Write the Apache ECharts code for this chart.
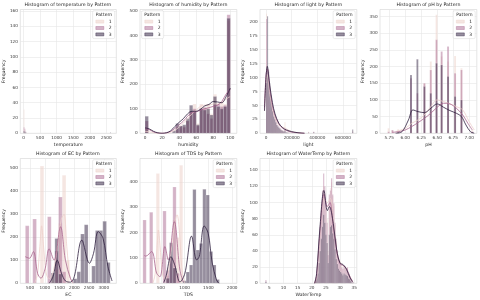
<!DOCTYPE html>
<html><head><meta charset="utf-8">
<script src="https://cdn.jsdelivr.net/npm/echarts@6/dist/echarts.min.js"></script>
<style>html,body{margin:0;padding:0;background:#fff}#c{width:480px;height:300px}</style>
</head><body><div id="c"></div>
<script>
// ---------------- DATA ----------------
const patterns = ['1', '2', '3'];

// temperature
const tempBins = [0, 27, 54, 2610];
const tempBinWidth = 27;
const tempH1 = [31, 4, 0, 0];
const tempH2 = [8, 6, 2, 0];
const tempH3 = [3, 2, 1, 1];
const tempTicksX = [0, 500, 1000, 1500, 2000, 2500];
const tempTicksY = [0, 20, 40, 60, 80, 100, 120, 140, 160];

// humidity
const humBins = [0, 4, 8, 12, 16, 20, 24, 28, 32, 36, 40, 44, 48, 52, 56, 60, 64, 68, 72, 76, 80, 84, 88, 92, 96];
const humBinWidth = 4;
const humH1 = [20, 0, 0, 0, 0, 0, 0, 0, 0, 10, 20, 30, 50, 80, 120, 40, 120, 110, 120, 80, 160, 100, 130, 120, 460];
const humH2 = [50, 0, 0, 0, 0, 0, 0, 0, 0, 25, 30, 25, 50, 90, 100, 30, 100, 105, 80, 60, 120, 120, 110, 115, 485];
const humH3 = [70, 0, 0, 0, 0, 0, 0, 0, 10, 40, 30, 35, 60, 115, 90, 35, 100, 95, 100, 75, 150, 110, 100, 110, 470];
const humK1 = [[0,8],[5,6],[10,2],[20,0],[30,4],[40,25],[50,60],[55,80],[60,95],[65,110],[70,115],[75,115],[80,120],[85,120],[90,125],[95,140],[100,150]];
const humK2 = [[0,20],[5,15],[10,6],[15,1],[20,0],[25,2],[30,8],[35,20],[40,35],[45,50],[50,70],[55,85],[60,88],[65,95],[70,100],[75,105],[80,110],[85,115],[90,130],[95,160],[100,180]];
const humK3 = [[0,22],[5,18],[10,8],[15,2],[20,0],[25,2],[30,10],[35,28],[40,45],[45,60],[50,80],[55,90],[60,90],[65,98],[70,112],[75,118],[80,130],[85,128],[90,125],[95,150],[100,185]];
const humTicksX = [0, 20, 40, 60, 80, 100];
const humTicksY = [0, 100, 200, 300, 400, 500];

// light
const lightBins = [0, 8000, 16000, 24000, 32000, 40000, 48000, 56000, 64000, 72000, 80000, 88000, 96000, 104000, 112000, 120000, 128000, 136000, 144000, 152000, 160000, 168000, 176000, 184000, 192000, 328000, 368000, 672000];
const lightBinWidth = 8000;
const lightH1 = [215, 90, 60, 45, 35, 30, 25, 20, 18, 15, 12, 10, 8, 8, 6, 5, 5, 4, 20, 3, 2, 2, 1, 1, 1, 3, 2, 4];
const lightH2 = [205, 100, 115, 80, 60, 55, 45, 35, 30, 25, 20, 15, 12, 10, 8, 6, 5, 4, 8, 3, 2, 1, 1, 0, 0, 2, 3, 2];
const lightH3 = [90, 210, 110, 90, 70, 55, 40, 30, 25, 20, 15, 12, 10, 8, 6, 5, 4, 3, 5, 2, 1, 1, 0, 0, 0, 1, 2, 7];
const lightK1 = [[-12000,40],[0,95],[10000,105],[30000,70],[60000,35],[100000,15],[150000,9],[200000,3],[300000,0]];
const lightK2 = [[-12000,45],[0,105],[10000,115],[20000,100],[30000,80],[50000,50],[70000,32],[100000,17],[130000,9],[160000,5],[200000,2],[300000,0]];
const lightK3 = [[-12000,40],[0,100],[10000,120],[20000,105],[30000,85],[50000,55],[70000,35],[100000,18],[130000,10],[160000,6],[200000,3],[250000,1],[300000,0]];
const lightTicksX = [0, 200000, 400000, 600000];
const lightTicksY = [0, 25, 50, 75, 100, 125, 150, 175, 200];

// pH
const phBins = [5.725, 5.785, 5.875, 6.075, 6.175, 6.285, 6.385, 6.475, 6.555, 6.655, 6.765, 6.865, 7.035];
const phBinWidth = 0.03;
const phH1 = [15, 8, 12, 30, 40, 150, 215, 355, 230, 215, 232, 195, 10];
const phH2 = [5, 10, 5, 165, 120, 150, 190, 280, 245, 260, 180, 190, 5];
const phH3 = [0, 0, 3, 175, 222, 140, 120, 210, 205, 170, 110, 100, 3];
const phK1 = [[5.85,5],[6.0,15],[6.1,30],[6.2,40],[6.3,55],[6.4,80],[6.5,100],[6.6,95],[6.7,88],[6.8,80],[6.9,70],[7.0,35],[7.08,10]];
const phK2 = [[5.8,3],[5.9,5],[6.0,10],[6.1,20],[6.2,32],[6.3,45],[6.4,60],[6.5,78],[6.6,90],[6.7,88],[6.8,75],[6.9,55],[6.98,30],[7.05,10]];
const phK3 = [[5.85,0],[5.95,5],[6.05,40],[6.12,70],[6.2,65],[6.3,62],[6.4,75],[6.5,88],[6.6,78],[6.7,68],[6.8,60],[6.88,50],[6.95,25],[7.02,5],[7.08,0]];
const phTicksX = [5.75, 6.00, 6.25, 6.50, 6.75, 7.00];
const phTicksY = [0, 50, 100, 150, 200, 250, 300, 350];

// EC
const ecBins = [340, 465, 590, 715, 840, 965, 1090, 1215, 1340, 1465, 1590, 1715, 1840, 1965, 2090, 2215, 2340, 2465, 2590, 2715, 2840, 2965, 3090, 3215];
const ecBinWidth = 125;
const ecH1 = [0, 0, 0, 0, 510, 0, 0, 30, 60, 260, 470, 100, 0, 0, 0, 0, 0, 0, 0, 0, 0, 0, 0, 0];
const ecH2 = [250, 0, 280, 0, 0, 0, 290, 0, 140, 375, 50, 0, 0, 0, 0, 0, 0, 0, 0, 0, 0, 0, 0, 0];
const ecH3 = [0, 0, 0, 0, 0, 0, 0, 45, 195, 40, 0, 0, 0, 20, 50, 215, 255, 5, 75, 230, 230, 270, 90, 0];
const ecK1 = [[650,0],[750,40],[830,160],[890,250],[950,170],[1050,40],[1150,20],[1300,60],[1450,180],[1560,280],[1650,300],[1750,150],[1850,30],[1950,0]];
const ecK2 = [[333,116],[478,109],[611,138],[755,43],[866,22],[1011,65],[1144,150],[1310,101],[1532,246],[1699,100],[1865,22],[1950,3]];
const ecK3 = [[1150,0],[1280,30],[1420,100],[1560,45],[1700,10],[1870,5],[2000,30],[2255,188],[2510,87],[2650,130],[2810,225],[2975,195],[3140,72],[3280,10]];
const ecTicksX = [500, 1000, 1500, 2000, 2500, 3000];
const ecTicksY = [0, 100, 200, 300, 400, 500];

// TDS
const tdsBins = [120, 190, 260, 330, 400, 470, 540, 610, 680, 750, 820, 890, 960, 1030, 1100, 1170, 1240, 1310, 1380, 1450, 1520, 1590, 1660];
const tdsBinWidth = 70;
const tdsH1 = [0, 0, 0, 0, 433, 0, 0, 30, 0, 250, 181, 465, 0, 0, 0, 0, 0, 0, 0, 0, 0, 0, 0];
const tdsH2 = [250, 0, 280, 0, 0, 0, 285, 50, 100, 380, 40, 0, 0, 0, 0, 0, 0, 0, 0, 0, 0, 0, 0];
const tdsH3 = [0, 0, 0, 0, 0, 0, 0, 20, 160, 60, 0, 0, 10, 45, 72, 370, 131, 157, 371, 348, 125, 72, 15];
const tdsK1 = [[330,0],[380,40],[420,150],[445,210],[480,150],[530,40],[580,15],[650,40],[730,150],[790,240],[840,270],[890,200],[940,60],[1000,0]];
const tdsK2 = [[150,110],[180,107],[304,125],[409,40],[479,26],[584,145],[654,92],[780,243],[899,52],[969,5]];
const tdsK3 = [[560,3],[610,30],[710,105],[794,70],[900,5],[1005,40],[1145,186],[1250,92],[1306,105],[1411,226],[1495,197],[1580,80],[1671,13],[1720,0]];
const tdsTicksX = [500, 1000, 1500, 2000];
const tdsTicksY = [0, 100, 200, 300, 400];

// WaterTemp
const wtBins = [3.6, 20.8, 21.2, 21.6, 22.0, 22.4, 22.8, 23.2, 23.6, 24.0, 24.4, 24.8, 25.2, 25.6, 26.0, 26.4, 26.8, 27.2, 27.6, 28.0, 28.4, 28.8, 29.2, 29.6, 30.0, 30.4, 30.8, 31.2, 31.6, 32.0, 32.4, 32.8, 33.2, 33.6, 34.0, 34.4];
const wtBinWidth = 0.4;
const wtH1 = [0, 2, 4, 10, 22, 40, 62, 85, 105, 120, 112, 95, 80, 40, 105, 118, 125, 108, 95, 72, 52, 40, 30, 26, 24, 22, 17, 20, 20, 18, 18, 11, 8, 5, 3, 2];
const wtH2 = [4, 1, 5, 12, 25, 45, 70, 90, 115, 136, 120, 100, 75, 35, 110, 115, 130, 110, 99, 75, 55, 41, 32, 28, 25, 20, 18, 22, 21, 19, 20, 12, 9, 6, 3, 1];
const wtH3 = [2, 0, 2, 6, 12, 25, 40, 55, 70, 85, 75, 60, 50, 25, 60, 70, 72, 62, 55, 42, 30, 24, 18, 16, 14, 12, 10, 12, 11, 10, 9, 6, 5, 3, 1, 1];
const wtK1 = [[21,0],[21.7,8],[22.9,60],[24.3,105],[25.5,100],[26.6,105],[27.6,75],[28.8,42],[30,26],[31.1,22],[32.3,17],[33.5,8],[34.4,3]];
const wtK2 = [[21,0],[21.7,10],[22.9,65],[24.3,110],[25.5,95],[26.4,100],[27.6,70],[28.8,40],[30,24],[31.1,22],[32.3,18],[33.5,8],[34.4,2]];
const wtK3 = [[21,0],[21.7,12],[22.9,70],[24.3,115],[25.5,90],[26.2,95],[27.6,74],[28.8,41],[30.0,25],[31.1,23],[32.3,17],[33.5,7],[34.4,2]];
const wtTicksX = [5, 10, 15, 20, 25, 30, 35];
const wtTicksY = [0, 20, 40, 60, 80, 100, 120, 140];

// ---------------- LAYOUT / STYLE ----------------
const LINE = ['#edd1cb', '#aa678f', '#2d1e3e'];
const FILL = ['rgba(237,209,203,0.55)', 'rgba(170,103,143,0.5)', 'rgba(45,30,62,0.5)'];
const COLS = [19.5, 140, 260, 380];
const ROWS = [9.5, 158.5];
const GW = 96.8, GH = [123.8, 124.8];
const str = v => String(v);

const plots = [
  {t:'temperature', xmin:-98, xmax:2800, ymax:162, xt:tempTicksX, yt:tempTicksY, bins:tempBins, w:tempBinWidth, h:[tempH1,tempH2,tempH3], k:[[],[],[]], c:0, r:0, leg:'R', fmt:str},
  {t:'humidity', xmin:-5.9, xmax:107.6, ymax:506, xt:humTicksX, yt:humTicksY, bins:humBins, w:humBinWidth, h:[humH1,humH2,humH3], k:[humK1,humK2,humK3], c:1, r:0, leg:'L', fmt:str},
  {t:'light', xmin:-47000, xmax:708000, ymax:222, xt:lightTicksX, yt:lightTicksY, bins:lightBins, w:lightBinWidth, h:[lightH1,lightH2,lightH3], k:[lightK1,lightK2,lightK3], c:2, r:0, leg:'R', fmt:str},
  {t:'pH', xmin:5.605, xmax:7.12, ymax:371, xt:phTicksX, yt:phTicksY, bins:phBins, w:phBinWidth, h:[phH1,phH2,phH3], k:[phK1,phK2,phK3], c:3, r:0, leg:'R', fmt:v=>Number(v).toFixed(2)},
  {t:'EC', xmin:167, xmax:3423, ymax:543, xt:ecTicksX, yt:ecTicksY, bins:ecBins, w:ecBinWidth, h:[ecH1,ecH2,ecH3], k:[ecK1,ecK2,ecK3], c:0, r:1, leg:'R', fmt:str},
  {t:'TDS', xmin:59, xmax:2097, ymax:492, xt:tdsTicksX, yt:tdsTicksY, bins:tdsBins, w:tdsBinWidth, h:[tdsH1,tdsH2,tdsH3], k:[tdsK1,tdsK2,tdsK3], c:1, r:1, leg:'R', fmt:str},
  {t:'WaterTemp', xmin:1.7, xmax:35.9, ymax:154.5, xt:wtTicksX, yt:wtTicksY, bins:wtBins, w:wtBinWidth, h:[wtH1,wtH2,wtH3], k:[wtK1,wtK2,wtK3], c:2, r:1, leg:'R', fmt:str}
];

const grid = [], xAxis = [], yAxis = [], series = [], legend = [], graphic = [];
const FONT = 'DejaVu Sans';
const LEGW = 21.5;

plots.forEach((p, i) => {
  const left = COLS[p.c], top = ROWS[p.r], h = GH[p.r];
  grid.push({left, top, width: GW, height: h, show: true, borderColor: '#d4d4d4', borderWidth: 0.6, backgroundColor: '#fff'});
  xAxis.push({
    type: 'value', gridIndex: i, min: p.xmin, max: p.xmax,
    name: p.t, nameLocation: 'middle', nameGap: 8.6,
    nameTextStyle: {fontSize: 4.6, color: '#262626', fontFamily: FONT},
    axisLine: {show: false}, axisTick: {show: false, customValues: p.xt},
    axisLabel: {customValues: p.xt, formatter: p.fmt, fontSize: 4.2, color: '#3a3a3a', margin: 2.4, fontFamily: FONT, hideOverlap: false},
    splitLine: {show: true, lineStyle: {color: '#e6e6e6', width: 0.6}}
  });
  yAxis.push({
    type: 'value', gridIndex: i, min: 0, max: p.ymax,
    name: 'Frequency', nameLocation: 'middle', nameGap: 10.5,
    nameTextStyle: {fontSize: 4.6, color: '#262626', fontFamily: FONT},
    axisLine: {show: false}, axisTick: {show: false, customValues: p.yt},
    axisLabel: {customValues: p.yt, formatter: str, fontSize: 4.2, color: '#3a3a3a', margin: 2.4, fontFamily: FONT},
    splitLine: {show: true, lineStyle: {color: '#e6e6e6', width: 0.6}}
  });
  // histogram bars
  for (let s = 0; s < 3; s++) {
    const counts = p.h[s];
    const data = p.bins.map((b, j) => [b, b + p.w, counts[j] || 0]).filter(d => d[2] > 0);
    const fill = FILL[s];
    series.push({
      type: 'custom', name: patterns[s], xAxisIndex: i, yAxisIndex: i, clip: true, silent: true,
      itemStyle: {color: fill}, encode: {x: [0, 1], y: 2}, data,
      renderItem: (params, api) => {
        const a = api.coord([api.value(0), 0]);
        const b = api.coord([api.value(1), api.value(2)]);
        return {type: 'rect', shape: {x: a[0], y: b[1], width: Math.max(b[0] - a[0], 0.6), height: a[1] - b[1]},
          style: {fill, stroke: 'rgba(255,255,255,0.6)', lineWidth: 0.3}};
      }
    });
  }
  // KDE lines
  for (let s = 0; s < 3; s++) {
    if (!p.k[s].length) continue;
    series.push({
      type: 'line', name: patterns[s], xAxisIndex: i, yAxisIndex: i, data: p.k[s], smooth: 0.35,
      showSymbol: false, silent: true, z: 3, clip: true,
      lineStyle: {color: LINE[s], width: 0.8}, itemStyle: {color: LINE[s]}
    });
  }
  // title
  graphic.push({type: 'text', z: 100, x: left + GW / 2, y: top - 4.3,
    style: {text: 'Histogram of ' + p.t + ' by Pattern', fontSize: 4.7, fontFamily: FONT, fill: '#262626', textAlign: 'center', textVerticalAlign: 'middle'}});
  // legend
  const legLeft = p.leg === 'L' ? left + 1.6 : left + GW - 1.6 - LEGW;
  const leg = {
    orient: 'vertical', top: top + 1.2, padding: [8.3, 3, 1.6, 3], itemWidth: 8, itemHeight: 3, itemGap: 1.2, icon: 'rect',
    selectedMode: false, borderColor: '#d8d8d8', borderWidth: 0.5, borderRadius: 1.5, backgroundColor: 'rgba(255,255,255,0.85)',
    textStyle: {fontSize: 4.5, color: '#262626', fontFamily: FONT, lineHeight: 5.2},
    data: patterns.map((n, s) => ({name: n, itemStyle: {color: FILL[s], borderColor: LINE[s], borderWidth: 0.4}}))
  };
  if (p.leg === 'L') leg.left = legLeft; else leg.right = 480 - (left + GW - 1.6);
  legend.push(leg);
  graphic.push({type: 'text', z: 100, x: legLeft + LEGW / 2, y: top + 1.2 + 4.6,
    style: {text: 'Pattern', fontSize: 4.5, fontFamily: FONT, fill: '#262626', textAlign: 'center', textVerticalAlign: 'middle'}});
});

const chart = echarts.init(document.getElementById('c'), null, {renderer: 'canvas'});
chart.setOption({animation: false, backgroundColor: '#fff', grid, xAxis, yAxis, series, legend, graphic});
</script></body></html>
